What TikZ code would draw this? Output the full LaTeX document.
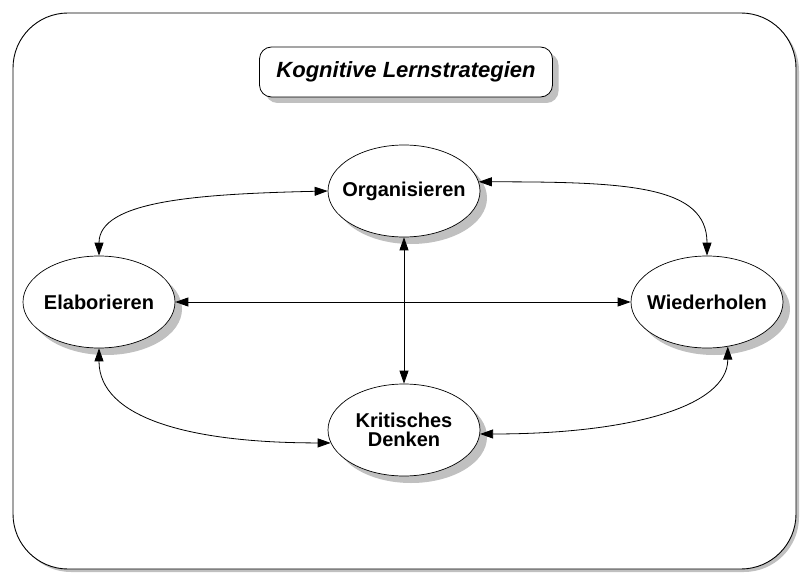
\documentclass[tikz,border=0pt]{standalone}
\usepackage{fontspec}
\setmainfont{Liberation Sans}
\usepackage{xcolor}
\usepackage{tikz}
\usetikzlibrary{
	arrows.meta,
	shapes.geometric,
	shadows
}
\definecolor{shadowgray}{HTML}{C0C0C0}

\begin{document}
\begin{tikzpicture}[x=1pt,y=-1pt,
		>={Triangle[length=13pt,width=9pt]},
		grayshadow/.style={drop shadow={shadow xshift=#1,shadow yshift=-#1,fill=shadowgray,opacity=1}},
		strat/.style={ellipse,draw,fill=white,line width=0.7pt,inner sep=0pt,
			minimum width=152pt,minimum height=92pt,grayshadow=7pt},
		stratlabel/.style={font=\bfseries\fontsize{20}{19}\selectfont,align=center},
		link/.style={<->,line width=0.8pt}]
		\useasboundingbox (0,0) rectangle (800,575);
		% frame and title
		\draw[line width=0.9pt,rounded corners=55pt,fill=white,grayshadow=3pt] (13,13) rectangle (796,569);
		\node[draw,fill=white,line width=0.8pt,rounded corners=12pt,minimum width=293pt,minimum height=50pt,
			grayshadow=6pt,font=\bfseries\itshape\fontsize{22}{24}\selectfont] (T) at (406,72) {Kognitive Lernstrategien};
		% strategies
		\node[strat,label={[stratlabel]center:Organisieren}] (O) at (404,191) {};
		\node[strat,label={[stratlabel]center:Elaborieren}] (E) at (99,302) {};
		\node[strat,label={[stratlabel]center:Wiederholen}] (W) at (707,302) {};
		\node[strat,label={[stratlabel]center:Kritisches\\Denken}] (K) at (404,430) {};
		% links
		\draw[link] (E.north) .. controls +(0,-55) and +(-130,3) .. (O.west);
		\draw[link] (O.7) .. controls +(150,0) and +(0,-70) .. (W.north);
		\draw[link] (E.east) -- (W.west);
		\draw[link] (O.south) -- (K.north);
		\draw[link] (E.south) .. controls +(0,70) and +(-140,0) .. (K.190);
		\draw[link] (W.-65) .. controls +(0,60) and +(150,0) .. (K.-3);
	\end{tikzpicture}
\end{document}
